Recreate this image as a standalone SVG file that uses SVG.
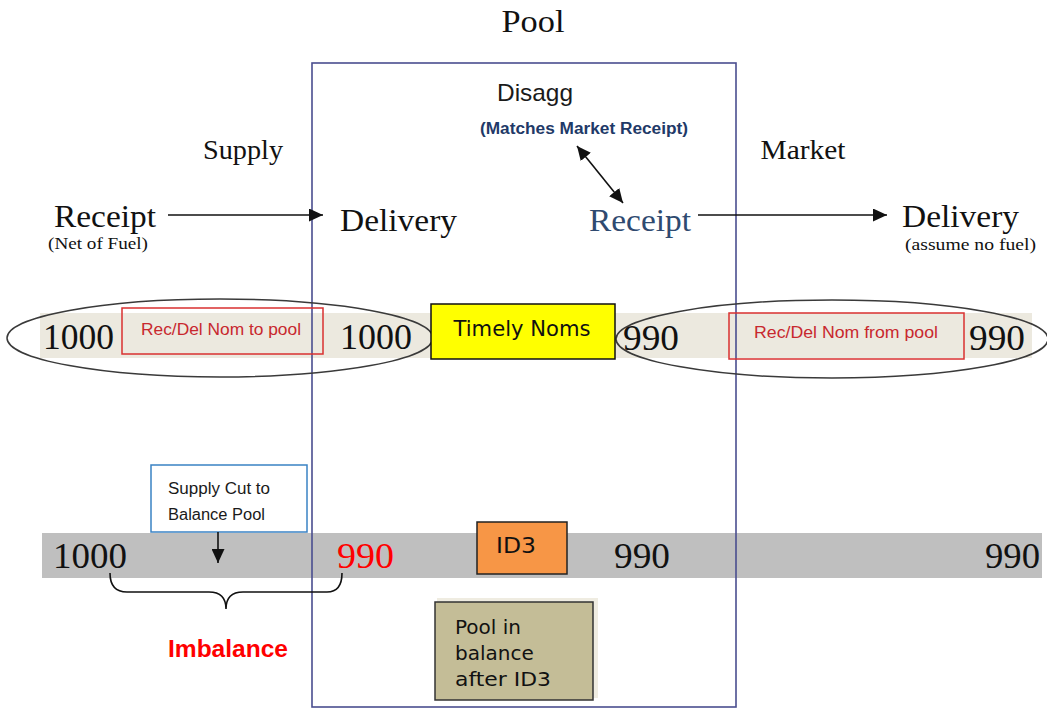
<svg xmlns="http://www.w3.org/2000/svg" width="1047" height="709" viewBox="0 0 1047 709">
<defs>
<style>
.serif{font-family:"Liberation Serif","Times New Roman",serif;fill:#111;}
.sans{font-family:"Liberation Sans",Arial,sans-serif;}
.verd{font-family:"DejaVu Sans",Verdana,sans-serif;fill:#111;}
.num{font-family:"Liberation Serif","Times New Roman",serif;font-size:36px;fill:#111;}
.conn{stroke:#111;stroke-width:1.6;fill:none;}
.redbox{fill:none;stroke:#d93030;stroke-width:1.5;}
.redtxt{font-family:"Liberation Sans",Arial,sans-serif;font-size:16px;fill:#c8282e;}
.ell{fill:none;stroke:#3a3a3a;stroke-width:1.5;}
</style>
<marker id="ah" viewBox="0 0 14 13" refX="14" refY="6.5" markerWidth="14" markerHeight="13" markerUnits="userSpaceOnUse" orient="auto-start-reverse">
<path d="M0,0 L14,6.5 L0,13 Z" fill="#111"/>
</marker>
</defs>
<rect width="1047" height="709" fill="#fff"/>

<g id="bands">
<rect x="40" y="313" width="992" height="45" fill="#ece9df"/>
<rect x="42" y="533" width="1000" height="45" fill="#bfbfbf"/>
</g>

<g id="pool">
<rect x="312" y="63" width="424" height="644" fill="none" stroke="#4a4e8f" stroke-width="1.6"/>
<text class="serif" x="533" y="32" font-size="32" text-anchor="middle" textLength="63" lengthAdjust="spacingAndGlyphs">Pool</text>
</g>

<g id="ellipses">
<ellipse class="ell" cx="220" cy="338" rx="213" ry="39"/>
<ellipse class="ell" cx="832" cy="339" rx="216" ry="39"/>
</g>

<g id="labels-top">
<text class="sans" x="535" y="101" font-size="24" fill="#1a1a1a" text-anchor="middle" textLength="76" lengthAdjust="spacingAndGlyphs">Disagg</text>
<text class="sans" x="584" y="134" font-size="16" font-weight="bold" fill="#1f3a68" text-anchor="middle" textLength="208" lengthAdjust="spacingAndGlyphs">(Matches Market Receipt)</text>
<text class="serif" x="243" y="159" font-size="28" text-anchor="middle" textLength="80" lengthAdjust="spacingAndGlyphs">Supply</text>
<text class="serif" x="803" y="159" font-size="28" text-anchor="middle" textLength="85" lengthAdjust="spacingAndGlyphs">Market</text>
</g>

<g id="supply-receipt">
<text class="serif" x="54" y="227" font-size="32" textLength="102" lengthAdjust="spacingAndGlyphs">Receipt</text>
<text class="serif" x="48" y="249" font-size="17" textLength="100" lengthAdjust="spacingAndGlyphs">(Net of Fuel)</text>
</g>
<g id="pool-delivery">
<text class="serif" x="340" y="231" font-size="32" textLength="117" lengthAdjust="spacingAndGlyphs">Delivery</text>
</g>
<g id="pool-receipt">
<text class="serif" x="589" y="231" font-size="32" style="fill:#2f4a70" textLength="102" lengthAdjust="spacingAndGlyphs">Receipt</text>
</g>
<g id="market-delivery">
<text class="serif" x="902" y="227" font-size="32" textLength="117" lengthAdjust="spacingAndGlyphs">Delivery</text>
<text class="serif" x="905" y="250" font-size="17" textLength="131" lengthAdjust="spacingAndGlyphs">(assume no fuel)</text>
</g>

<g id="nom-row">
<text class="num" x="43" y="349" textLength="71" lengthAdjust="spacingAndGlyphs">1000</text>
<rect class="redbox" x="122" y="308" width="201" height="46"/>
<text class="redtxt" x="221" y="335" text-anchor="middle" textLength="160" lengthAdjust="spacingAndGlyphs">Rec/Del Nom to pool</text>
<text class="num" x="340" y="349" textLength="72" lengthAdjust="spacingAndGlyphs">1000</text>
<text class="num" x="623" y="350" textLength="56" lengthAdjust="spacingAndGlyphs">990</text>
<rect class="redbox" x="729" y="313" width="235" height="46"/>
<text class="redtxt" x="846" y="338" text-anchor="middle" textLength="184" lengthAdjust="spacingAndGlyphs">Rec/Del Nom from pool</text>
<text class="num" x="969" y="350" textLength="56" lengthAdjust="spacingAndGlyphs">990</text>
</g>

<g id="timely-noms">
<rect x="431" y="304" width="184" height="55" fill="#ffff00" stroke="#111" stroke-width="1.5"/>
<text class="verd" x="522" y="336" font-size="21" text-anchor="middle" textLength="137" lengthAdjust="spacingAndGlyphs">Timely Noms</text>
</g>

<g id="supply-cut">
<rect x="151" y="465" width="156" height="67" fill="#fff" stroke="#3a82c4" stroke-width="1.5"/>
<text class="sans" x="168" y="494" font-size="16" fill="#1a1a1a" textLength="102" lengthAdjust="spacingAndGlyphs">Supply  Cut to</text>
<text class="sans" x="168" y="520" font-size="16" fill="#1a1a1a" textLength="97" lengthAdjust="spacingAndGlyphs">Balance Pool</text>
</g>

<g id="id-row">
<text class="num" x="53" y="568" textLength="74" lengthAdjust="spacingAndGlyphs">1000</text>
<text class="num" x="337" y="568" style="fill:#ff0000" textLength="57" lengthAdjust="spacingAndGlyphs">990</text>
<text class="num" x="614" y="568" textLength="56" lengthAdjust="spacingAndGlyphs">990</text>
<text class="num" x="985" y="568" textLength="55" lengthAdjust="spacingAndGlyphs">990</text>
</g>

<g id="id3">
<rect x="477" y="522" width="90" height="52" fill="#f79646" stroke="#222" stroke-width="1.5"/>
<text class="verd" x="516" y="553" font-size="21" text-anchor="middle" textLength="40" lengthAdjust="spacingAndGlyphs">ID3</text>
</g>

<g id="imbalance">
<path class="conn" d="M110,573 C110,585 115,592 127,592 L209,592 C220,592 226,598 226,609 C226,598 232,592 243,592 L327,592 C338,592 342,585 342,573" stroke="#333" stroke-width="1.4"/>
<text class="sans" x="228" y="657" font-size="24" font-weight="bold" fill="#ff0000" text-anchor="middle" textLength="120" lengthAdjust="spacingAndGlyphs">Imbalance</text>
</g>

<g id="pool-balance">
<rect x="437" y="598" width="161" height="100" fill="#efece1"/>
<rect x="435" y="602" width="158" height="98" fill="#c4bd97" stroke="#333" stroke-width="1.5"/>
<text class="verd" x="455" y="634" font-size="20">Pool in</text>
<text class="verd" x="455" y="660" font-size="20">balance</text>
<text class="verd" x="455" y="686" font-size="20" textLength="96" lengthAdjust="spacingAndGlyphs">after ID3</text>
</g>

<g id="connectors">
<path class="conn" d="M168,215 L323,215" marker-end="url(#ah)"/>
<path class="conn" d="M698,215 L887,215" marker-end="url(#ah)"/>
<path class="conn" d="M577,146 L623,203" marker-start="url(#ah)" marker-end="url(#ah)"/>
<path class="conn" d="M218,532 L218,563" marker-end="url(#ah)"/>
</g>
</svg>
